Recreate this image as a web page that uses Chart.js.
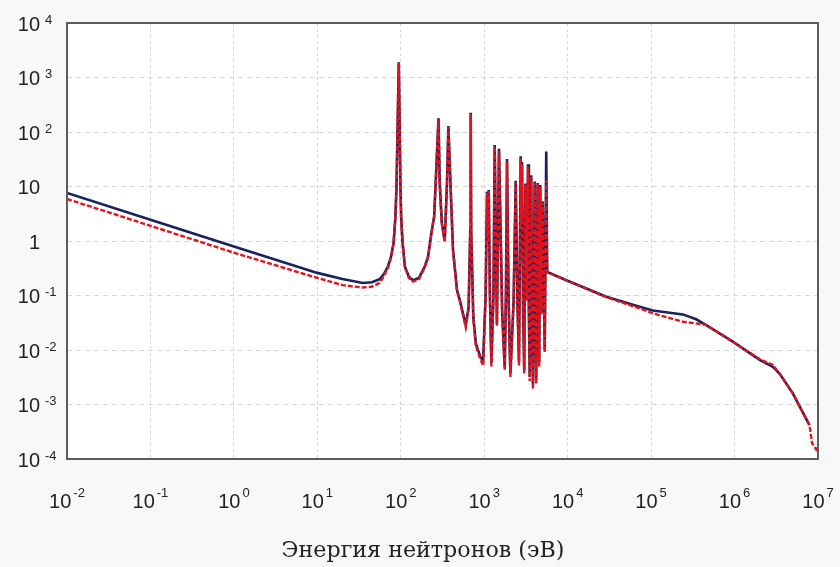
<!DOCTYPE html>
<html>
<head>
<meta charset="utf-8">
<script src="https://cdn.jsdelivr.net/npm/chart.js@4.4.1/dist/chart.umd.min.js"></script>
<style>
  html, body { margin: 0; padding: 0; background: #f8f8f8; }
  #wrap { width: 840px; height: 567px; }
</style>
</head>
<body>
<div id="wrap"><canvas id="xsChart" width="840" height="567"></canvas></div>
<script>
// DATA (energy in eV, cross section)
const energyNavy = [
  0.01, 0.1, 1, 10, 20, 35, 45, 56, 63, 70, 76, 82, 86.3, 89, 94.6, 99, 101, 105, 112, 125, 140, 165, 194,
  212, 233, 251, 262, 283, 293, 310, 336, 358, 372, 394, 423, 472, 509, 600, 650, 680, 689, 698,
  740, 794, 900, 969, 1040, 1081, 1105, 1133, 1170, 1219, 1290, 1336, 1420, 1504, 1640,
  1761, 1820, 1876, 1960, 2060, 2250, 2384, 2500, 2611, 2735, 2785, 2838, 2920, 3015,
  3114, 3230, 3350, 3430, 3509, 3656, 3740, 3839, 4027, 4110, 4196, 4375, 4460, 4560,
  4688, 4846, 5024, 5309, 5535, 5680, 9640, 29040, 72800, 104700, 240000, 346700,
  478600, 955000, 2000000, 2880000, 3460000, 4990000, 7900000
];
const sigmaNavy = [
  7.6, 2.45, 0.79, 0.26, 0.2, 0.17, 0.175, 0.2, 0.25, 0.34, 0.5, 0.92, 2.8, 11, 1900, 11.5, 2.8, 0.96, 0.34, 0.22, 0.19, 0.21, 0.34,
  0.51, 1.4, 2.8, 11.5, 178, 11.5, 2.2, 1.0, 11.5, 129, 11.5, 0.68, 0.126, 0.083, 0.029, 0.06, 1.5, 226, 1.5,
  0.04, 0.013, 0.0075, 0.0062, 0.1, 8.0, 1.0, 8.6, 0.1, 0.0058, 0.1, 58, 0.03, 49, 0.05,
  0.0049, 0.1, 32, 0.08, 0.0037, 0.08, 12.8, 0.08, 0.0061, 36, 2, 28, 0.06, 0.0043,
  11.4, 0.083, 25.6, 0.05, 0.0032, 16, 0.05, 0.0023, 12.3, 0.05, 0.0028, 11.6, 0.1, 0.006,
  10.6, 0.048, 5.3, 0.01, 44, 0.27, 0.19, 0.095, 0.062, 0.053, 0.045, 0.0366,
  0.0275, 0.0142, 0.0066, 0.0049, 0.0037, 0.0016, 0.00042
];

const energyRed = [
  0.01, 0.1, 1, 10, 20, 35, 45, 56, 63, 70, 76, 82, 86.3, 89, 94.6, 99, 101, 105, 112, 125, 140, 165, 194,
  212, 233, 251, 262, 283, 293, 310, 336, 358, 372, 394, 423, 472, 509, 600, 650, 680, 689, 698,
  740, 794, 900, 969, 1040, 1081, 1105, 1133, 1170, 1219, 1290, 1336, 1420, 1504, 1640,
  1761, 1820, 1876, 1960, 2060, 2250, 2384, 2500, 2611, 2735, 2785, 2838, 2920, 3015,
  3114, 3230, 3350, 3430, 3509, 3656, 3740, 3839, 4027, 4110, 4196, 4375, 4460, 4560,
  4688, 4846, 5024, 5309, 5535, 5680, 9640, 29040, 72800, 104700, 240000, 455000,
  478600, 955000, 2000000, 2880000, 3460000, 4990000, 7900000, 8500000, 9500000, 10000000
];
const sigmaRed = [
  5.9, 1.9, 0.61, 0.21, 0.155, 0.14, 0.145, 0.17, 0.23, 0.32, 0.48, 0.9, 2.8, 11, 1850, 11.5, 2.8, 0.93, 0.33, 0.21, 0.18, 0.2, 0.33,
  0.5, 1.4, 2.8, 11.5, 170, 11.5, 2.1, 0.95, 11.5, 124, 11.5, 0.66, 0.12, 0.08, 0.026, 0.058, 1.5, 215, 1.5,
  0.038, 0.012, 0.0068, 0.0052, 0.1, 7.6, 1.0, 8.2, 0.1, 0.005, 0.1, 54, 0.028, 45, 0.05,
  0.0042, 0.1, 29, 0.08, 0.0032, 0.08, 12, 0.08, 0.0052, 33, 2, 25, 0.06, 0.0037,
  10.8, 0.08, 23, 0.05, 0.0027, 15, 0.05, 0.0019, 11.6, 0.05, 0.0024, 11, 0.1, 0.005,
  10, 0.045, 5, 0.009, 13, 0.27, 0.19, 0.093, 0.058, 0.047, 0.033, 0.029,
  0.0275, 0.014, 0.0068, 0.0053, 0.0037, 0.0016, 0.00042, 0.000195, 0.00015, 0.00018
];

// tick labels: powers of ten
const xExps = [-2, -1, 0, 1, 2, 3, 4, 5, 6, 7];
const yExps = [-4, -3, -2, -1, 0, 1, 2, 3, 4];
const xTitle = 'Энергия нейтронов (эВ)';

function toPoints(xs, ys) {
  return xs.map((e, i) => ({ x: e, y: ys[i] }));
}

// white plot area + frame + custom "10^n" labels
const frameAndLabels = {
  id: 'frameAndLabels',
  beforeDraw(chart) {
    const { ctx, chartArea: a } = chart;
    ctx.save();
    ctx.fillStyle = '#ffffff';
    ctx.fillRect(a.left, a.top, a.right - a.left, a.bottom - a.top);
    ctx.restore();
  },
  afterDraw(chart) {
    const { ctx, chartArea: a, scales } = chart;
    ctx.save();
    ctx.strokeStyle = '#5c5c5c';
    ctx.lineWidth = 2;
    ctx.strokeRect(a.left, a.top, a.right - a.left, a.bottom - a.top);

    const baseFont = '20px "Liberation Sans", Arial, sans-serif';
    const expFont = '13px "Liberation Sans", Arial, sans-serif';
    ctx.fillStyle = '#222';
    ctx.textBaseline = 'alphabetic';

    // y axis
    yExps.forEach(n => {
      const py = scales.y.getPixelForValue(Math.pow(10, n));
      const base = n === 0 ? '1' : '10';
      ctx.font = baseFont;
      ctx.textAlign = 'right';
      ctx.fillText(base, 40, py + 7.5);
      if (n !== 0 && n !== 1) {
        ctx.font = expFont;
        ctx.textAlign = 'left';
        ctx.fillText(String(n), 45, py + 0.5);
      }
    });

    // x axis
    xExps.forEach(n => {
      const px = scales.x.getPixelForValue(Math.pow(10, n));
      ctx.font = baseFont;
      const bw = ctx.measureText('10').width;
      ctx.font = expFont;
      const ew = ctx.measureText(String(n)).width;
      const start = px - (bw + 2 + ew) / 2;
      ctx.textAlign = 'left';
      ctx.font = baseFont;
      ctx.fillText('10', start, 508);
      ctx.font = expFont;
      ctx.fillText(String(n), start + bw + 2, 497);
    });

    // axis title
    ctx.font = '20px "DejaVu Serif", serif';
    const tw = ctx.measureText(xTitle).width;
    const size = 20 * 283 / tw;
    ctx.font = size.toFixed(1) + 'px "DejaVu Serif", serif';
    ctx.textAlign = 'center';
    ctx.fillText(xTitle, 423, 557);
    ctx.restore();
  }
};

const ctx = document.getElementById('xsChart').getContext('2d');
new Chart(ctx, {
  type: 'line',
  data: {
    datasets: [
      {
        label: 'navy',
        data: toPoints(energyNavy, sigmaNavy),
        borderColor: '#17225e',
        borderWidth: 2.6,
        pointRadius: 0,
        tension: 0,
        order: 1
      },
      {
        label: 'red',
        data: toPoints(energyRed, sigmaRed),
        borderColor: '#e3131b',
        borderWidth: 2.4,
        borderDash: [5, 2],
        pointRadius: 0,
        tension: 0,
        order: 0
      }
    ]
  },
  options: {
    responsive: false,
    animation: false,
    layout: { padding: { left: 67, top: 23, right: 22, bottom: 108 } },
    plugins: { legend: { display: false }, tooltip: { enabled: false } },
    scales: {
      x: {
        type: 'logarithmic',
        min: 0.01,
        max: 1e7,
        afterBuildTicks: axis => { axis.ticks = xExps.map(n => ({ value: Math.pow(10, n) })); },
        ticks: { display: false },
        grid: { color: '#d6d6d6', lineWidth: 1, drawTicks: false },
        border: { display: false, dash: [3, 3] }
      },
      y: {
        type: 'logarithmic',
        min: 1e-4,
        max: 1e4,
        afterBuildTicks: axis => { axis.ticks = yExps.map(n => ({ value: Math.pow(10, n) })); },
        ticks: { display: false },
        grid: { color: '#d6d6d6', lineWidth: 1, drawTicks: false },
        border: { display: false, dash: [5, 4] }
      }
    }
  },
  plugins: [frameAndLabels]
});
</script>
</body>
</html>
